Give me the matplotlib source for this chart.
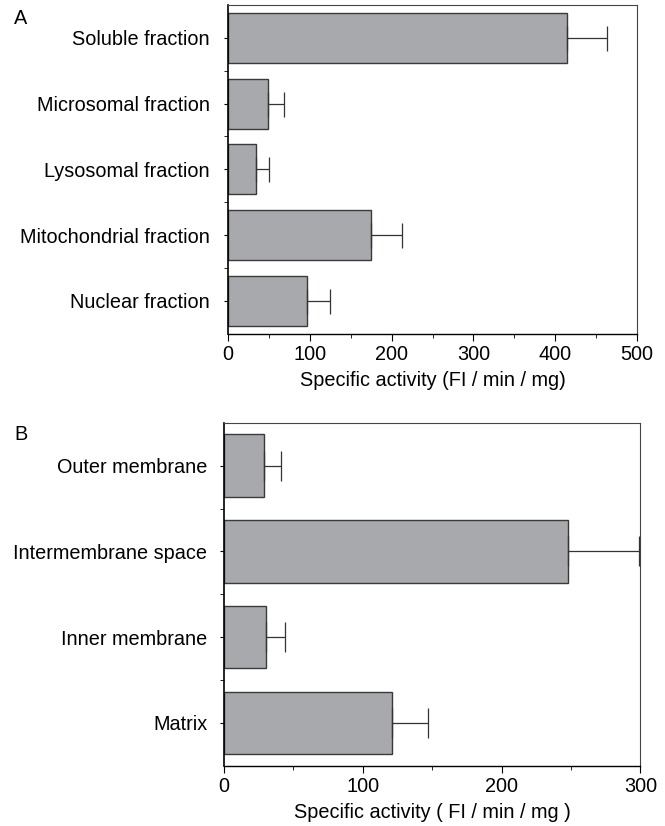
import numpy as np
import matplotlib
matplotlib.use("Agg")
import matplotlib.pyplot as plt
from matplotlib.ticker import MultipleLocator, FixedLocator

plt.rcParams['font.family'] = ['Liberation Sans', 'DejaVu Sans']

##### panel A data
cats_a = ["Soluble fraction", "Microsomal fraction", "Lysosomal fraction",
          "Mitochondrial fraction", "Nuclear fraction"]
vals_a = [414, 49, 34, 175, 97]
errs_a = [49, 19, 16, 38, 28]

##### panel B data
cats_b = ["Outer membrane", "Intermembrane space", "Inner membrane", "Matrix"]
vals_b = [29, 248, 30, 121]
errs_b = [12, 51, 14, 26]

bar_col = "#a8a9ad"
edge_col = "#3a3a3a"
fs = 14.3

fig = plt.figure(figsize=(6.65, 8.26), dpi=100)


def draw_panel(ax, cats, vals, errs, xmax, width, capsize, xlabel, ypad):
    y = np.arange(len(cats))
    ax.barh(y, vals, height=width, color=bar_col, edgecolor=edge_col, linewidth=1.0, zorder=2)
    ax.errorbar(vals, y, xerr=[np.zeros(len(vals)), errs], fmt="none",
                ecolor="#333333", elinewidth=0.9, capsize=capsize, capthick=0.9, zorder=3)
    ax.set_ylim(len(cats) - 0.5, -0.5)
    ax.set_xlim(0, xmax)
    ax.set_yticks(y)
    ax.set_yticklabels(cats, fontsize=fs)
    ax.yaxis.set_minor_locator(FixedLocator(np.arange(0.5, len(cats) - 0.5, 1.0)))
    ax.xaxis.set_major_locator(MultipleLocator(100))
    ax.xaxis.set_minor_locator(MultipleLocator(50))
    ax.tick_params(axis="x", which="major", length=5, width=0.8, labelsize=fs, pad=3)
    ax.tick_params(axis="x", which="minor", length=3, width=0.6)
    ax.tick_params(axis="y", which="major", length=3, width=0.8, pad=ypad)
    ax.tick_params(axis="y", which="minor", length=3, width=0.6)
    for s in ["top", "right"]:
        ax.spines[s].set_linewidth(0.8)
        ax.spines[s].set_color("#444444")
    ax.spines["left"].set_linewidth(1.2)
    ax.spines["bottom"].set_linewidth(1.0)
    ax.set_xlabel(xlabel, fontsize=fs, labelpad=5)


ax1 = fig.add_axes([0.343, 0.596, 0.615, 0.398])
draw_panel(ax1, cats_a, vals_a, errs_a, 500, 0.76, 9, "Specific activity (FI / min / mg)", 10)

ax2 = fig.add_axes([0.337, 0.073, 0.626, 0.415])
draw_panel(ax2, cats_b, vals_b, errs_b, 300, 0.73, 11, "Specific activity ( FI / min / mg )", 9)

fig.text(14 / 665, 1 - 18 / 826, "A", fontsize=fs, va="center", ha="left")
fig.text(14 / 665, 1 - 435 / 826, "B", fontsize=fs, va="center", ha="left")

plt.savefig("out.png", dpi=100)
